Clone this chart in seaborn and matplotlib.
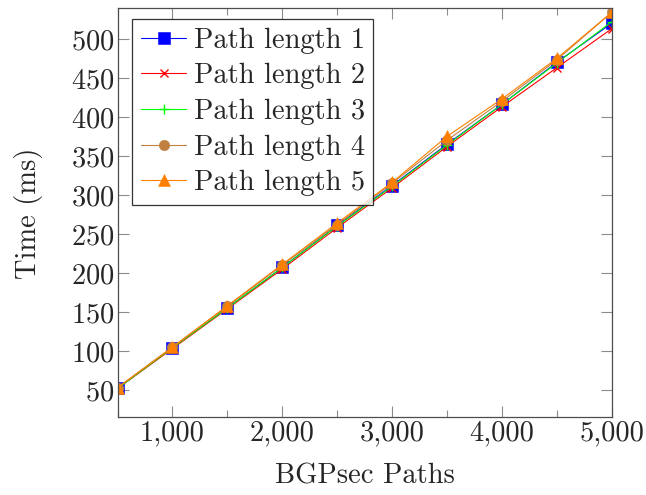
import matplotlib
import pandas as pd
import seaborn as sns
from matplotlib import pyplot as plt
from matplotlib.ticker import FuncFormatter, MultipleLocator

sns.set_style("ticks")
plt.rcParams['font.family'] = ['cmr10', 'DejaVu Serif']
plt.rcParams['axes.formatter.use_mathtext'] = True
plt.rcParams['mathtext.fontset'] = 'cm'

paths = [500, 1000, 1500, 2000, 2500, 3000, 3500, 4000, 4500, 5000]
path_len_1 = [52, 104, 155, 207, 261, 312, 365, 416, 470, 520]
path_len_2 = [52, 103, 154, 205, 258, 309, 362, 413, 463, 513]
path_len_3 = [52, 104, 155, 207, 260, 311, 364, 416, 469, 522]
path_len_4 = [53, 105, 157, 210, 262, 315, 370, 420, 473, 534]
path_len_5 = [53, 105, 158, 211, 264, 316, 375, 423, 475, 534]

series_names = ["Path length 1", "Path length 2", "Path length 3", "Path length 4", "Path length 5"]
series_vals = [path_len_1, path_len_2, path_len_3, path_len_4, path_len_5]
colors = ["#0000ff", "#ff0000", "#00ff00", "#bf8040", "#ff8000"]
markers = ["s", "x", "+", "o", "^"]
msizes = [8, 5.5, 7, 7.5, 8]

df = pd.concat([pd.DataFrame({"paths": paths, "time": v, "series": n})
                for n, v in zip(series_names, series_vals)])

FS = 20.5

fig = plt.figure(figsize=(6.46, 4.95), dpi=100)
ax = fig.add_axes([0.182, 0.157, 0.765, 0.826])

for name, col, mk, ms in zip(series_names, colors, markers, msizes):
    sns.lineplot(data=df[df.series == name], x="paths", y="time", ax=ax,
                 color=col, marker=mk, markersize=ms, linewidth=0.8,
                 markeredgecolor=col, markeredgewidth=1.0 if mk in "x+" else 0.4,
                 label=name)

ax.set_xlim(500, 5000)
ax.set_ylim(15, 539)
ax.xaxis.set_major_locator(MultipleLocator(1000))
ax.xaxis.set_minor_locator(MultipleLocator(500))
ax.yaxis.set_major_locator(MultipleLocator(50))
ax.xaxis.set_major_formatter(FuncFormatter(lambda v, p: f"{v:,.0f}"))
ax.tick_params(which="both", direction="in", top=True, right=True,
               width=0.8, color="0.55", labelsize=FS, pad=2)
ax.tick_params(which="major", length=8)
ax.tick_params(which="minor", length=5)
for s in ax.spines.values():
    s.set_color("0.3")
    s.set_linewidth(0.9)

ax.set_xlabel("BGPsec Paths", fontsize=FS, labelpad=12)
ax.set_ylabel("Time (ms)", fontsize=FS, labelpad=20)

leg = ax.legend(loc="upper left", bbox_to_anchor=(0.03, 0.975), fontsize=FS,
                frameon=True, fancybox=False, edgecolor="black",
                borderpad=0.3, labelspacing=0.33, handlelength=1.6,
                handletextpad=0.25, borderaxespad=0.0)
leg.get_frame().set_linewidth(0.9)

plt.savefig("out.png", dpi=100)
